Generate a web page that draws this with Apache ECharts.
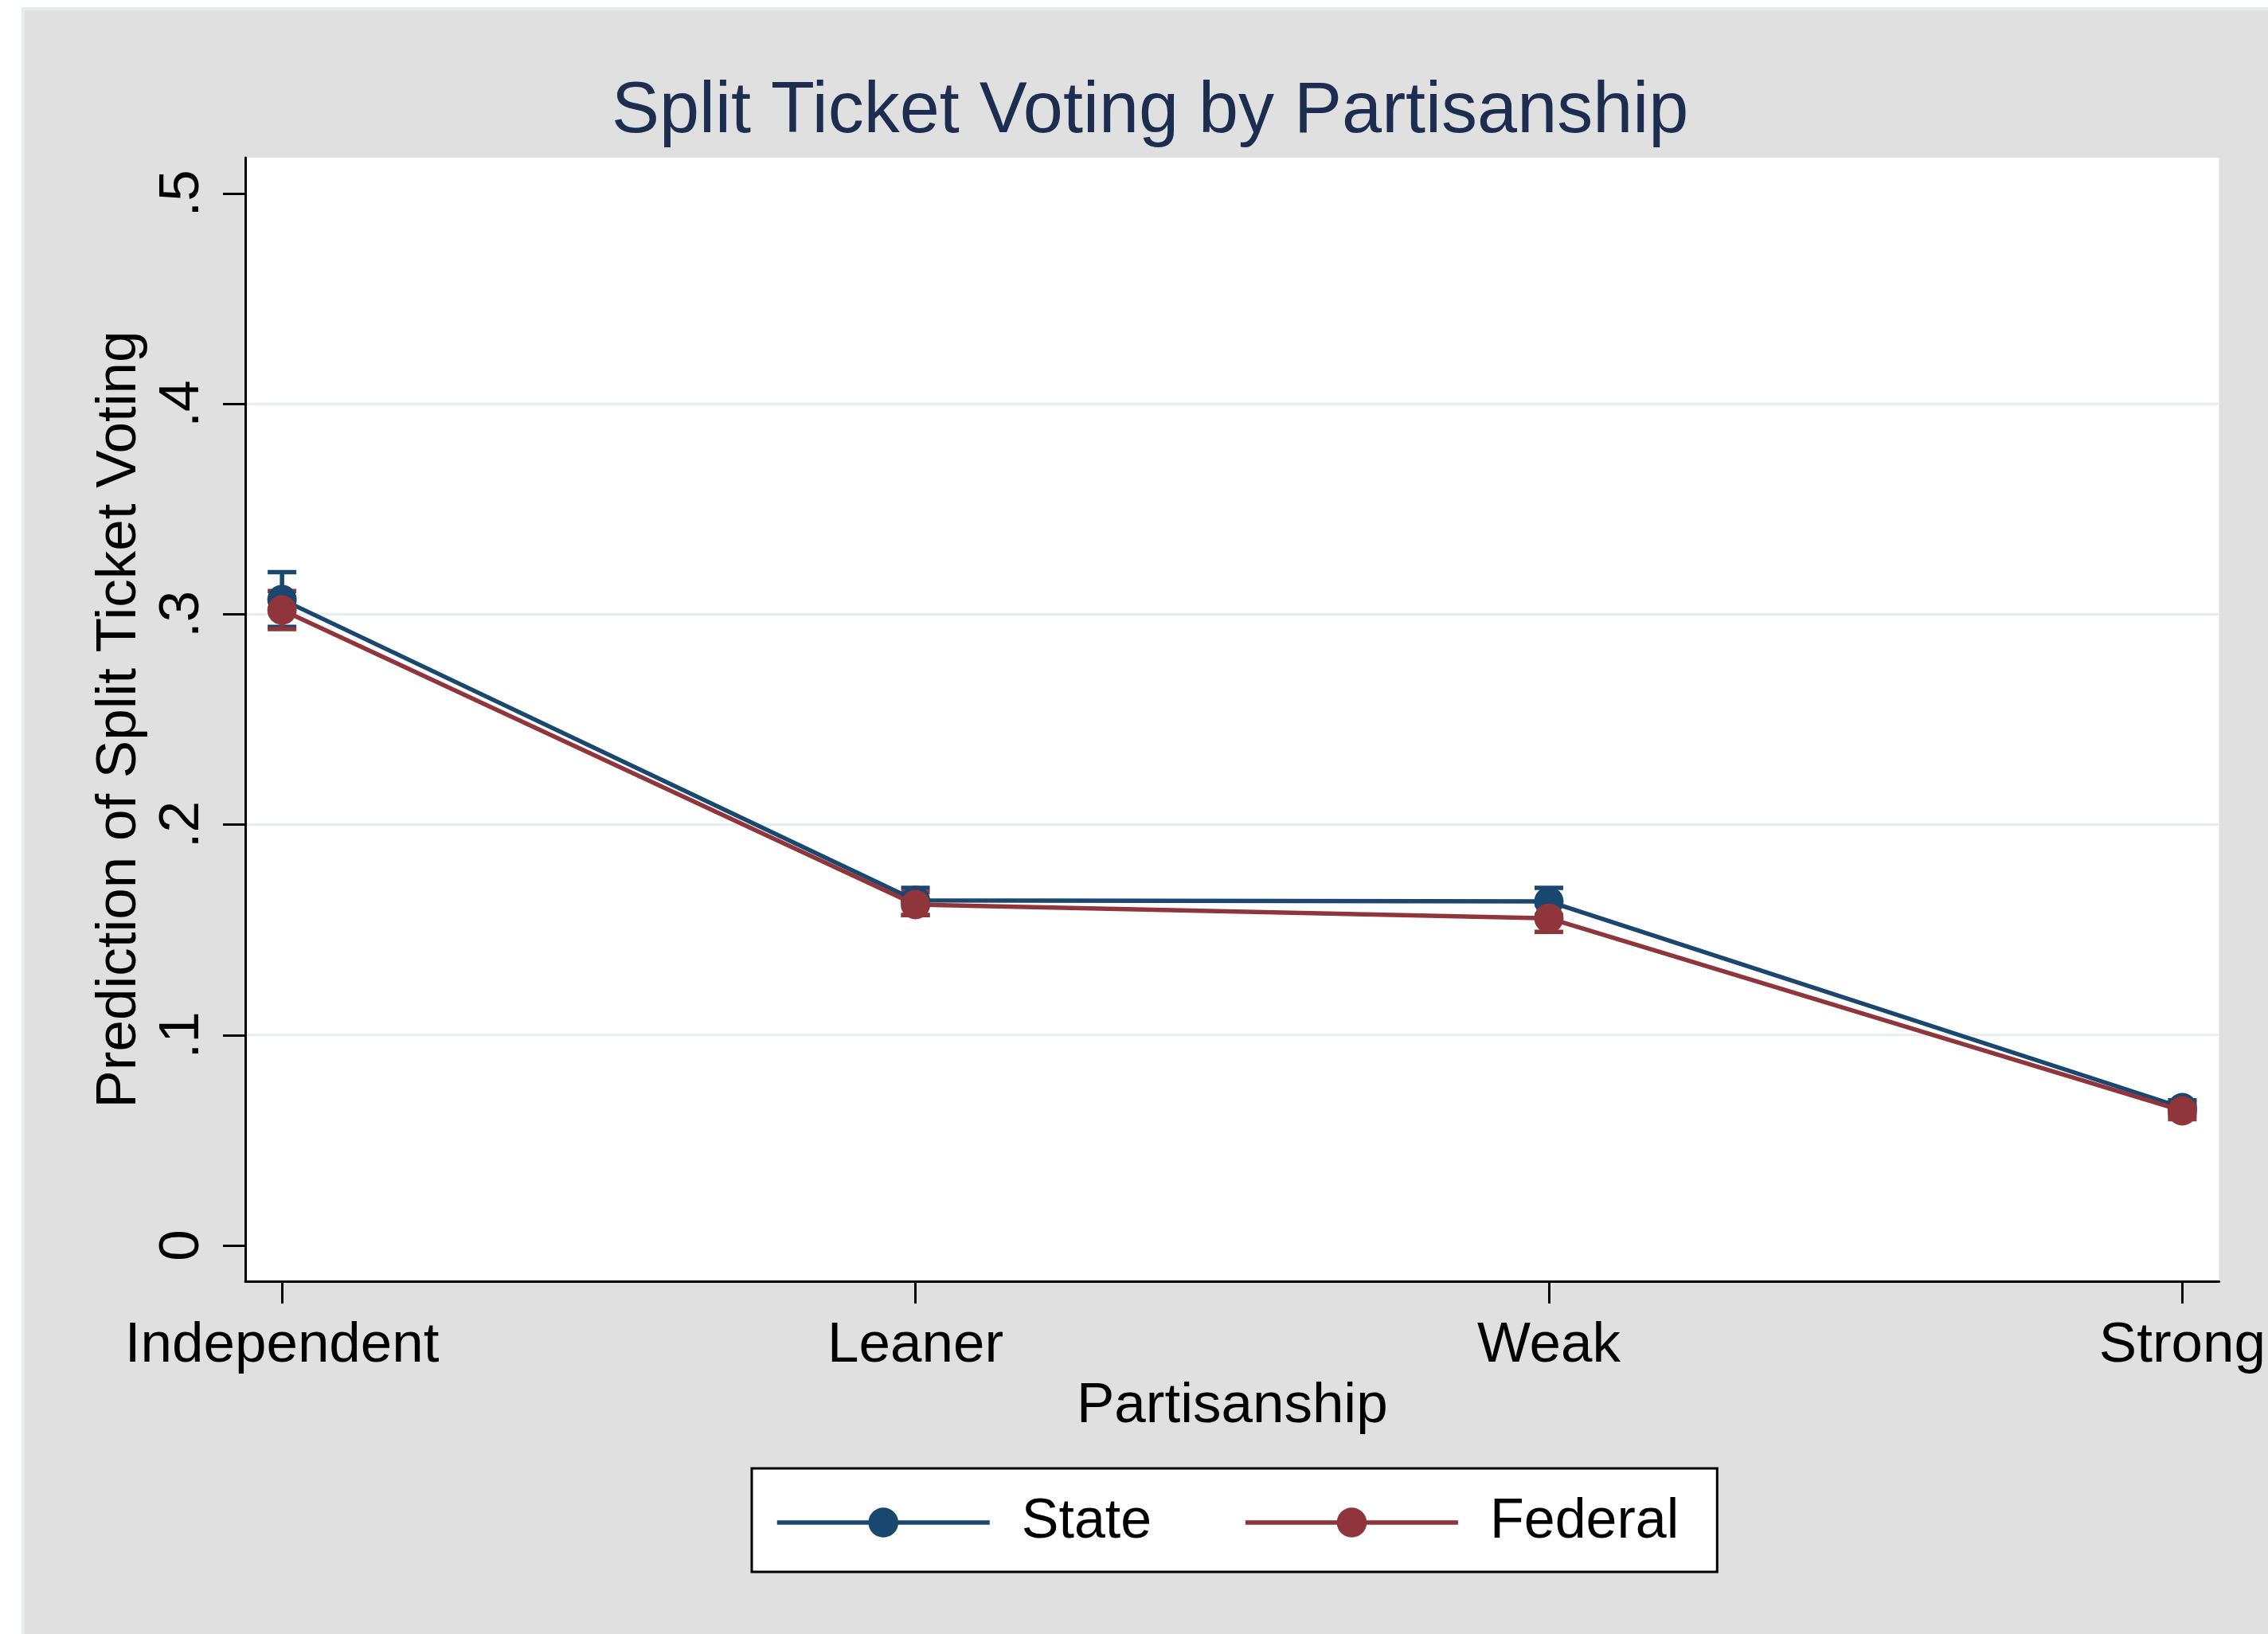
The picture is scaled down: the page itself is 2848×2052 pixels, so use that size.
<!DOCTYPE html>
<html>
<head>
<meta charset="utf-8">
<script src="https://cdn.jsdelivr.net/npm/echarts@6/dist/echarts.min.js"></script>
<style>
  html, body { margin: 0; padding: 0; background: #ffffff; }
  #chart { width: 2848px; height: 2052px; }
</style>
</head>
<body>
<div id="chart"></div>
<script>
// ---- data ----
const categories = ['Independent', 'Leaner', 'Weak', 'Strong'];
const stateValues = [0.307, 0.164, 0.1635, 0.0655];
const stateLow    = [0.294, 0.157, 0.157, 0.062];
const stateHigh   = [0.320, 0.170, 0.170, 0.069];
const federalValues = [0.302, 0.162, 0.1555, 0.064];
const federalLow    = [0.293, 0.157, 0.149, 0.060];
const federalHigh   = [0.311, 0.168, 0.162, 0.068];
const yTickValues = [0, 0.1, 0.2, 0.3, 0.4, 0.5];
const yTickLabels = ['0', '.1', '.2', '.3', '.4', '.5'];
const gridValues = [0.1, 0.2, 0.3, 0.4];
const xTickValues = [0, 1, 2, 3];

const FONT = '"Liberation Sans", Arial, Helvetica, sans-serif';
const BLUE = '#1a476f';
const RED = '#90353b';

const chart = echarts.init(document.getElementById('chart'), null, { renderer: 'canvas' });

function errBarRender(color) {
  return function (params, api) {
    const x = api.value(0);
    const lo = api.coord([x, api.value(1)]);
    const hi = api.coord([x, api.value(2)]);
    const half = 18;
    const style = { stroke: color, lineWidth: 5.5 };
    return {
      type: 'group',
      children: [
        { type: 'line', shape: { x1: lo[0], y1: lo[1], x2: hi[0], y2: hi[1] }, style: style },
        { type: 'line', shape: { x1: lo[0] - half, y1: lo[1], x2: lo[0] + half, y2: lo[1] }, style: style },
        { type: 'line', shape: { x1: hi[0] - half, y1: hi[1], x2: hi[0] + half, y2: hi[1] }, style: style }
      ]
    };
  };
}

function gridRender(params, api) {
  const cs = params.coordSys;
  const y = api.coord([0, api.value(1)])[1];
  return {
    type: 'line',
    shape: { x1: cs.x, y1: y, x2: cs.x + cs.width, y2: y },
    style: { stroke: '#e6eef1', lineWidth: 3 }
  };
}

const option = {
  animation: false,
  backgroundColor: '#ffffff',
  graphic: [{
    type: 'rect', z: -10, silent: true,
    shape: { x: 29, y: 11, width: 2840, height: 2060 },
    style: { fill: '#e0e0e0', stroke: '#e4ecef', lineWidth: 4 }
  }],
  title: {
    text: 'Split Ticket Voting by Partisanship',
    left: 768, top: 96, padding: 0,
    textStyle: { fontFamily: FONT, fontSize: 90, fontWeight: 'normal', color: '#1c2d50' }
  },
  grid: {
    left: 308, right: 58, top: 198, bottom: 443,
    show: true, backgroundColor: '#ffffff', borderWidth: 0
  },
  legend: {
    data: ['State', 'Federal'],
    left: 944, top: 1844,
    orient: 'horizontal',
    itemWidth: 267, itemHeight: 47, itemGap: 115,
    padding: [33, 48, 27, 29],
    backgroundColor: '#ffffff',
    borderColor: '#000000', borderWidth: 3, borderRadius: 0,
    lineStyle: { width: 5.5 },
    textStyle: { fontFamily: FONT, fontSize: 70, color: '#000000', padding: [4, 0, 0, 35], lineHeight: 60 }
  },
  xAxis: {
    type: 'value', min: -0.058, max: 3.058,
    name: 'Partisanship', nameLocation: 'middle', nameGap: 122,
    nameTextStyle: { fontFamily: FONT, fontSize: 71, color: '#000000' },
    axisLine: { show: true, onZero: false, lineStyle: { color: '#000000', width: 3 } },
    axisTick: { show: true, length: 28, customValues: xTickValues, lineStyle: { color: '#000000', width: 3 } },
    axisLabel: {
      customValues: xTickValues, margin: 46,
      fontFamily: FONT, fontSize: 71, color: '#000000',
      formatter: function (v) { return categories[Math.round(v)]; }
    },
    splitLine: { show: false }
  },
  yAxis: {
    type: 'value', min: -0.017, max: 0.517,
    name: 'Prediction of Split Ticket Voting', nameLocation: 'middle', nameGap: 122, nameRotate: 90,
    nameTextStyle: { fontFamily: FONT, fontSize: 71, color: '#000000' },
    axisLine: { show: true, onZero: false, lineStyle: { color: '#000000', width: 3 } },
    axisTick: { show: true, length: 28, customValues: yTickValues, lineStyle: { color: '#000000', width: 3 } },
    axisLabel: {
      customValues: yTickValues, margin: 43, rotate: 90,
      fontFamily: FONT, fontSize: 71, color: '#000000',
      formatter: function (v) {
        const i = yTickValues.findIndex(t => Math.abs(t - v) < 1e-9);
        return i >= 0 ? yTickLabels[i] : '';
      }
    },
    splitLine: { show: false }
  },
  series: [
    {
      name: 'grid', type: 'custom', z: 0, silent: true,
      renderItem: gridRender,
      encode: { x: 0, y: 1 },
      data: gridValues.map(v => [0, v])
    },
    {
      name: 'State CI', type: 'custom', z: 1, silent: true,
      renderItem: errBarRender(BLUE),
      encode: { x: 0, y: [1, 2] },
      data: categories.map((c, i) => [i, stateLow[i], stateHigh[i]])
    },
    {
      name: 'Federal CI', type: 'custom', z: 1, silent: true,
      renderItem: errBarRender(RED),
      encode: { x: 0, y: [1, 2] },
      data: categories.map((c, i) => [i, federalLow[i], federalHigh[i]])
    },
    {
      name: 'State', type: 'line', z: 3,
      symbol: 'circle', symbolSize: 37,
      color: BLUE,
      lineStyle: { color: BLUE, width: 5.5 },
      itemStyle: { color: BLUE },
      data: categories.map((c, i) => [i, stateValues[i]])
    },
    {
      name: 'Federal', type: 'line', z: 4,
      symbol: 'circle', symbolSize: 37,
      color: RED,
      lineStyle: { color: RED, width: 5.5 },
      itemStyle: { color: RED },
      data: categories.map((c, i) => [i, federalValues[i]])
    }
  ]
};

chart.setOption(option);
</script>
</body>
</html>
